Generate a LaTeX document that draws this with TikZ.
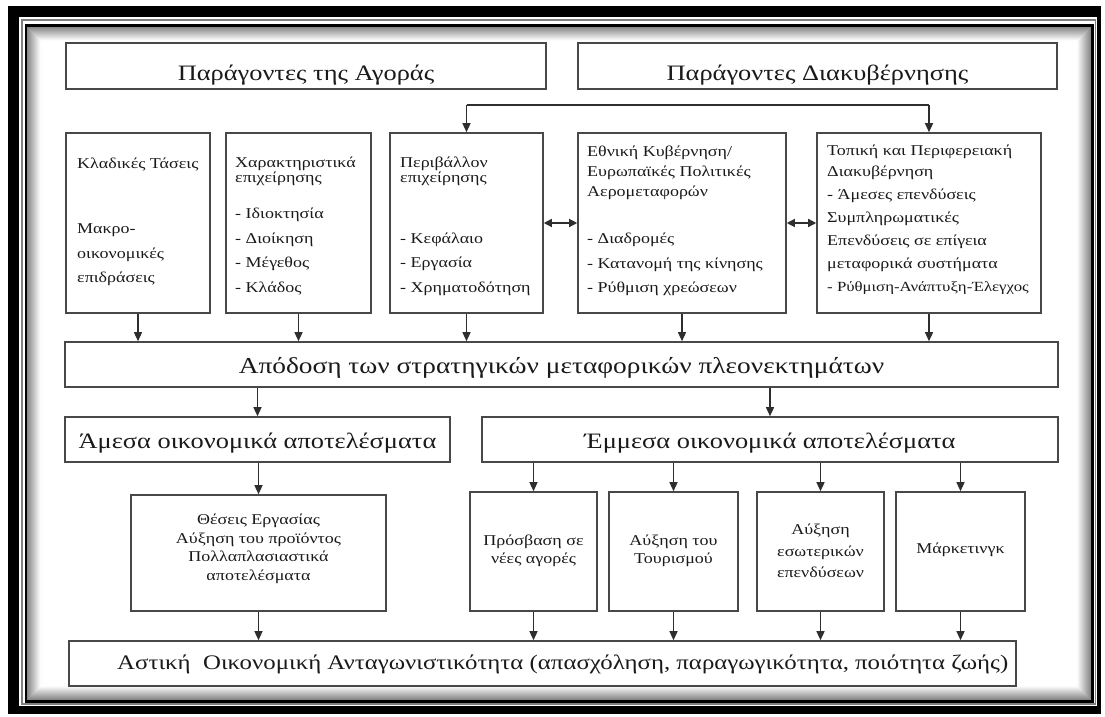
\documentclass[tikz,border=0pt]{standalone}
\usepackage{fontspec}
\setmainfont{Liberation Serif}[FakeStretch=1.2]
\usetikzlibrary{arrows.meta,calc}
\definecolor{boxc}{HTML}{484848}
\definecolor{linec}{HTML}{2E2E2E}
\definecolor{textc}{HTML}{1A1A1A}
\begin{document}
\begin{tikzpicture}[x=1pt,y=-1pt,
  box/.style={draw=boxc, line width=1.6pt, inner sep=0pt, fill=white},
  arr/.style={draw=linec, line width=1.3pt, -{Triangle[width=8pt,length=9pt]}},
  dbl/.style={draw=linec, line width=1.3pt, {Triangle[width=8pt,length=8pt]}-{Triangle[width=8pt,length=8pt]}},
  big/.style={font=\fontsize{22}{26}\selectfont, text=textc, inner sep=0pt},
  mid/.style={font=\fontsize{15}{24.5}\selectfont, text=textc, align=left, anchor=north west, inner sep=0pt},
  low/.style={font=\fontsize{15}{18.5}\selectfont, text=textc, align=center, inner sep=0pt},
]
\useasboundingbox (0,0) rectangle (1105,717);
\fill[white] (0,0) rectangle (1105,717);
% frame
\fill[black] (8,6) rectangle (1101,714);
\fill[white] (19,17) rectangle (1097,706);
\draw[black!50, line width=1.2pt] (22,20) rectangle (1095.5,704);
\draw[black, line width=2.2pt] (26,25.5) rectangle (1092.5,701.5);
\foreach \i in {1,...,14} {
  \pgfmathsetmacro\g{max(0,50-3.5*\i)}
  \draw[black!\g, line width=1.05pt] (27+\i,26.5+\i) rectangle (1091.5-\i,700.5-\i);
}
% top boxes
\node[box, minimum width=480pt, minimum height=46pt] (T1) at (306,66) {};
\node[big, anchor=base] (T1t) at (T1.center |- 0,80) {Παράγοντες της Αγοράς};
\node[box, minimum width=479pt, minimum height=46pt] (T2) at (817.5,66) {};
\node[big, anchor=base] (T2t) at (T2.center |- 0,80) {Παράγοντες Διακυβέρνησης};
% row 2
\node[box, minimum width=144pt, minimum height=180pt] (B1) at (138,223) {};
\node[box, minimum width=145pt, minimum height=180pt] (B2) at (298.5,223) {};
\node[box, minimum width=153pt, minimum height=180pt] (B3) at (466.5,223) {};
\node[box, minimum width=208pt, minimum height=180pt] (B4) at (682,223) {};
\node[box, minimum width=224pt, minimum height=180pt] (B5) at (929,223) {};
\node[mid] (B1t) at (77,158) {Κλαδικές Τάσεις\\[40.5pt]Μακρο-\\οικονομικές\\επιδράσεις};
\node[mid] (B2t) at (235,157) {Χαρακτηριστικά\\[-10pt]επιχείρησης\\[12pt]- Ιδιοκτησία\\- Διοίκηση\\- Μέγεθος\\- Κλάδος};
\node[mid] (B3t) at (400,157) {Περιβάλλον\\[-10pt]επιχείρησης\\[36.5pt]- Κεφάλαιο\\- Εργασία\\- Χρηματοδότηση};
\node[mid] (B4t) at (587,146) {Εθνική Κυβέρνηση/\\[-4.5pt]Ευρωπαϊκές Πολιτικές\\[-4.5pt]Αερομεταφορών\\[22.5pt]- Διαδρομές\\- Κατανομή της κίνησης\\- Ρύθμιση χρεώσεων};
\node[mid, font=\fontsize{15}{23}\selectfont] (B5t) at (827,145) {Τοπική και Περιφερειακή\\[-2.5pt]Διακυβέρνηση\\- Άμεσες επενδύσεις\\Συμπληρωματικές\\Επενδύσεις σε επίγεια\\μεταφορικά συστήματα\\{\fontsize{14}{23}\selectfont - Ρύθμιση-Ανάπτυξη-Έλεγχος}};
% connector on top of row 2
\coordinate (jl) at (466.5,105);
\coordinate (jr) at (929,105);
\draw[draw=linec, line width=1.3pt] (jl) -- (jr);
\draw[arr] (jl) -- (B3.north);
\draw[arr] (jr) -- (B5.north);
\draw[dbl] (B3.east) -- (B4.west);
\draw[dbl] (B4.east) -- (B5.west);
% row 3
\node[box, minimum width=993pt, minimum height=45pt] (Apo) at (561.5,364.5) {};
\node[big, anchor=base, font=\fontsize{22.8}{26}\selectfont] (Apot) at (Apo.center |- 0,373) {Απόδοση των στρατηγικών μεταφορικών πλεονεκτημάτων};
\foreach \b in {B1,B2,B3,B4,B5} { \draw[arr] (\b.south) -- (\b.south |- Apo.north); }
\node[box, minimum width=385pt, minimum height=45pt] (Am) at (257.5,439.5) {};
\node[big, anchor=base] (Amt) at (Am.center |- 0,448) {Άμεσα οικονομικά αποτελέσματα};
\node[box, minimum width=576pt, minimum height=45pt] (Em) at (770,439.5) {};
\node[big, anchor=base] (Emt) at (Em.center |- 0,448) {Έμμεσα οικονομικά αποτελέσματα};
\draw[arr] (Am.north |- Apo.south) -- (Am.north);
\draw[arr] (Em.north |- Apo.south) -- (Em.north);
% row 4
\node[box, minimum width=255pt, minimum height=116pt] (C1) at (258.5,553) {};
\node[box, minimum width=127pt, minimum height=119pt] (C2) at (533.5,551.5) {};
\node[box, minimum width=129pt, minimum height=119pt] (C3) at (673.5,551.5) {};
\node[box, minimum width=127pt, minimum height=119pt] (C4) at (820.5,551.5) {};
\node[box, minimum width=129pt, minimum height=119pt] (C5) at (960.5,551.5) {};
\node[low] (C1t) at (258.5,549) {Θέσεις Εργασίας\\Αύξηση του προϊόντος\\Πολλαπλασιαστικά\\αποτελέσματα};
\node[low] (C2t) at (533.5,551) {Πρόσβαση σε\\νέες αγορές};
\node[low] (C3t) at (673.5,551) {Αύξηση του\\Τουρισμού};
\node[low, font=\fontsize{15}{21.5}\selectfont] (C4t) at (820.5,551) {Αύξηση\\εσωτερικών\\επενδύσεων};
\node[low] (C5t) at (960.5,550) {Μάρκετινγκ};
\draw[arr] (C1.north |- Am.south) -- (C1.north);
\foreach \c in {C2,C3,C4,C5} { \draw[arr] (\c.north |- Em.south) -- (\c.north); }
% bottom
\node[box, minimum width=947pt, minimum height=45pt] (Ast) at (542.5,663.5) {};
\node[font=\fontsize{20.7}{24}\selectfont, text=textc, inner sep=0pt, anchor=base west] (Astt) at (117,669) {Αστική\ \ Οικονομική Ανταγωνιστικότητα (απασχόληση, παραγωγικότητα, ποιότητα ζωής)};
\foreach \c in {C1,C2,C3,C4,C5} { \draw[arr] (\c.south) -- (\c.south |- Ast.north); }
\end{tikzpicture}
\end{document}
